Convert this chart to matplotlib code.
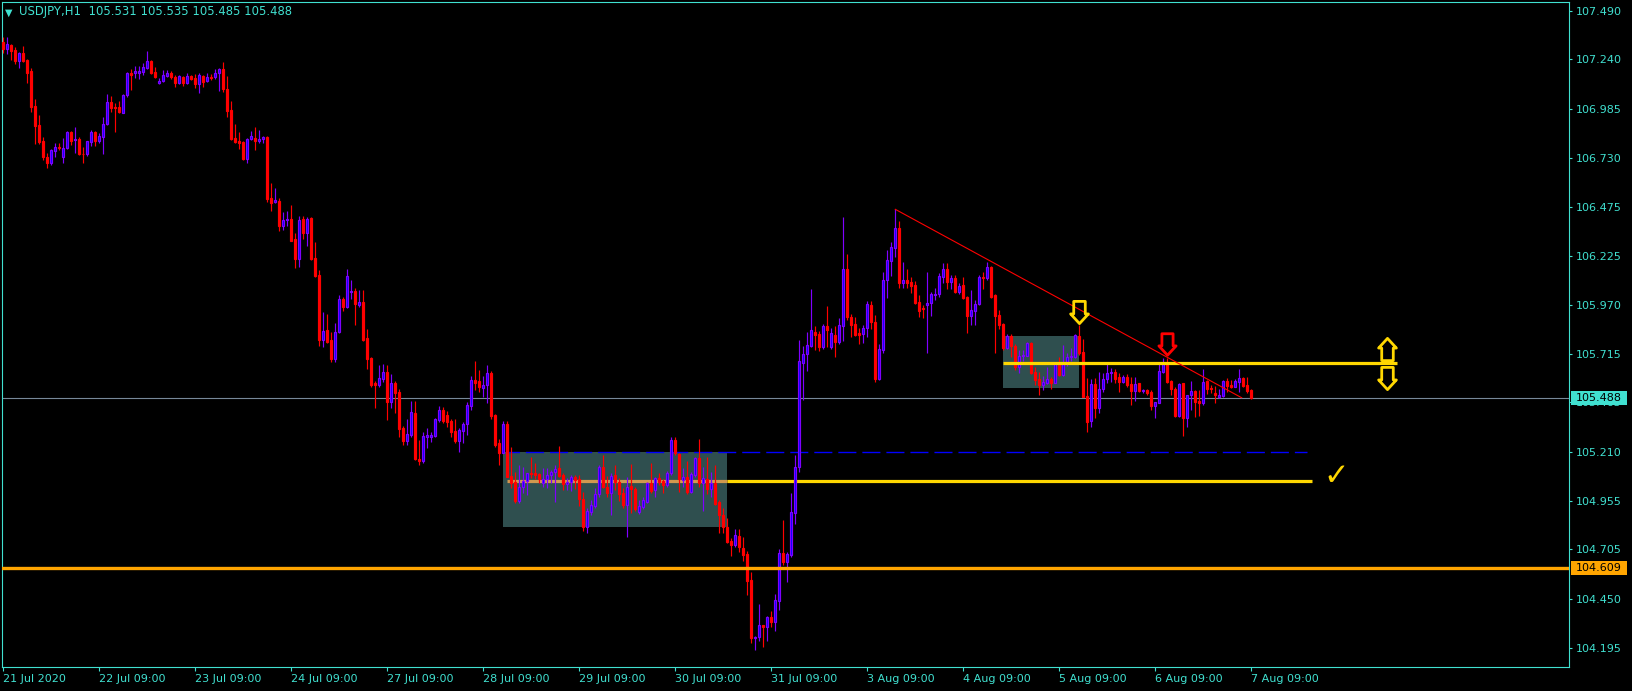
import numpy as np
import matplotlib
matplotlib.use("Agg")
import matplotlib.pyplot as plt
from matplotlib.path import Path
from matplotlib.patches import Rectangle
import matplotlib.transforms as mtransforms

plt.rcParams['lines.scale_dashes'] = False
plt.rcParams['font.family'] = ['DejaVu Sans']

# ---------------- data ----------------
title_text = "USDJPY,H1  105.531 105.535 105.485 105.488"

opens = [107.328,107.291,107.314,107.288,107.233,107.274,107.236,107.181,106.998,106.900,
106.817,106.736,106.705,106.765,106.788,106.733,106.779,106.864,106.821,106.826,
106.752,106.748,106.814,106.864,106.819,106.839,106.905,107.019,106.993,106.993,
106.964,107.055,107.171,107.167,107.171,107.176,107.196,107.233,107.176,107.115,
107.129,107.153,107.167,107.146,107.119,107.146,107.119,107.153,107.141,107.110,
107.153,107.127,107.146,107.146,107.167,107.190,107.086,106.977,106.833,106.817,
106.814,106.724,106.826,106.834,106.819,106.826,106.840,106.522,106.503,106.507,
106.379,106.409,106.414,106.310,106.207,106.414,106.343,106.421,106.214,106.124,
105.788,105.840,105.788,105.688,105.829,106.000,105.957,106.038,106.041,105.969,
105.984,105.797,105.697,105.564,105.555,105.586,105.624,105.469,105.564,105.517,
105.331,105.267,105.296,105.409,105.171,105.164,105.288,105.288,105.291,105.374,
105.426,105.400,105.369,105.317,105.265,105.319,105.353,105.447,105.581,105.576,
105.541,105.555,105.615,105.400,105.253,105.205,105.353,105.084,105.055,104.957,
105.029,105.058,105.098,105.098,105.095,105.050,105.070,105.089,105.103,105.124,
105.089,105.041,105.053,105.077,105.067,104.963,104.819,104.900,104.929,104.991,
105.129,105.029,104.998,105.089,105.055,104.994,104.934,105.034,105.015,104.899,
104.925,104.951,105.046,105.012,105.072,105.058,105.038,105.098,105.270,105.198,
105.065,105.081,105.003,105.089,105.176,105.046,105.067,105.015,105.046,104.948,
104.882,104.819,104.750,104.727,104.774,104.710,104.681,104.546,104.244,104.250,
104.313,104.301,104.356,104.330,104.439,104.684,104.641,104.676,104.895,105.129,
105.670,105.713,105.758,105.831,105.819,105.750,105.860,105.750,105.814,105.779,
105.862,106.155,105.908,105.870,105.822,105.817,105.848,105.969,105.882,105.586,
105.736,106.098,106.198,106.262,106.365,106.084,106.098,106.086,106.072,105.982,
105.951,105.967,105.977,106.022,106.026,106.115,106.155,106.089,106.110,106.038,
106.072,106.008,105.914,105.940,105.972,106.115,106.110,106.164,106.020,105.917,
105.870,105.745,105.810,105.758,105.650,105.707,105.707,105.770,105.624,105.584,
105.555,105.567,105.584,105.567,105.670,105.607,105.676,105.698,105.698,105.808,
105.727,105.498,105.370,105.560,105.438,105.532,105.586,105.615,105.624,105.598,
105.572,105.594,105.560,105.524,105.563,105.524,105.529,105.520,105.446,105.463,
105.624,105.670,105.577,105.532,105.394,105.563,105.382,105.503,105.524,105.474,
105.463,105.577,105.538,105.515,105.494,105.498,105.576,105.555,105.546,105.572,
105.589,105.555,105.531]

highs = [107.357,107.353,107.318,107.305,107.279,107.310,107.240,107.193,107.034,106.952,
106.839,106.753,106.776,106.805,106.808,106.831,106.871,106.871,106.891,106.839,
106.788,106.819,106.874,106.871,106.857,106.943,107.060,107.050,107.012,107.026,
107.060,107.176,107.188,107.207,107.205,107.219,107.284,107.236,107.202,107.141,
107.184,107.184,107.181,107.159,107.159,107.153,107.171,107.159,107.164,107.171,
107.159,107.167,107.164,107.188,107.193,107.226,107.153,107.026,106.905,106.862,
106.819,106.831,106.869,106.888,106.874,106.845,106.843,106.602,106.572,106.521,
106.452,106.457,106.486,106.340,106.429,106.429,106.422,106.424,106.297,106.150,
105.934,105.922,105.828,105.874,106.021,106.012,106.155,106.098,106.055,106.047,
106.047,105.845,105.702,105.576,105.659,105.664,105.659,105.612,105.576,105.533,
105.343,105.379,105.472,105.472,105.271,105.314,105.331,105.314,105.386,105.446,
105.440,105.421,105.379,105.379,105.331,105.365,105.469,105.603,105.679,105.633,
105.601,105.658,105.627,105.405,105.276,105.369,105.369,105.236,105.107,105.141,
105.132,105.101,105.181,105.150,105.101,105.124,105.124,105.115,105.141,105.239,
105.101,105.072,105.089,105.089,105.089,105.003,104.917,104.960,105.020,105.141,
105.193,105.084,105.098,105.141,105.072,105.020,105.081,105.146,105.029,104.960,
104.977,105.055,105.150,105.081,105.098,105.067,105.112,105.288,105.288,105.205,
105.124,105.164,105.107,105.184,105.276,105.132,105.181,105.107,105.141,104.960,
104.917,104.865,104.762,104.808,104.808,104.767,104.698,104.586,104.256,104.422,
104.316,104.360,104.386,104.474,104.706,104.856,104.693,104.998,105.193,105.788,
105.757,105.831,106.052,105.860,105.836,105.870,105.963,105.848,105.860,105.900,
106.422,106.233,105.922,105.905,105.848,105.865,105.989,105.989,105.917,105.767,
106.138,106.253,106.293,106.465,106.405,106.193,106.155,106.112,106.095,106.020,
105.969,106.138,106.038,106.055,106.136,106.188,106.188,106.124,106.124,106.081,
106.112,106.015,106.046,105.995,106.124,106.141,106.193,106.170,106.024,105.943,
105.874,105.819,105.819,105.767,105.736,105.736,105.779,105.779,105.650,105.624,
105.601,105.650,105.594,105.676,105.700,105.760,105.720,105.745,105.819,105.865,
105.791,105.589,105.584,105.589,105.624,105.619,105.667,105.641,105.636,105.619,
105.607,105.612,105.598,105.598,105.567,105.532,105.532,105.529,105.469,105.676,
105.693,105.693,105.581,105.543,105.567,105.567,105.503,105.577,105.529,105.529,
105.636,105.581,105.555,105.550,105.532,105.581,105.589,105.581,105.584,105.636,
105.598,105.598,105.535]

lows = [107.271,107.265,107.236,107.215,107.196,107.227,107.115,106.969,106.800,106.802,
106.719,106.679,106.693,106.736,106.771,106.702,106.774,106.796,106.757,106.745,
106.702,106.741,106.793,106.793,106.805,106.748,106.900,106.969,106.865,106.960,
106.960,107.046,107.081,107.141,107.140,107.157,107.191,107.164,107.143,107.112,
107.124,107.150,107.136,107.098,107.112,107.102,107.112,107.133,107.090,107.064,
107.095,107.124,107.133,107.140,107.077,107.072,106.943,106.822,106.808,106.774,
106.719,106.705,106.822,106.771,106.808,106.808,106.503,106.457,106.495,106.353,
106.357,106.378,106.298,106.162,106.167,106.309,106.274,106.204,106.116,105.757,
105.753,105.774,105.676,105.676,105.826,105.940,105.952,106.000,105.866,105.957,
105.785,105.638,105.546,105.438,105.546,105.572,105.374,105.434,105.408,105.288,
105.245,105.245,105.288,105.167,105.141,105.150,105.227,105.262,105.288,105.365,
105.357,105.336,105.288,105.253,105.210,105.253,105.296,105.426,105.529,105.521,
105.494,105.463,105.379,105.236,105.141,105.201,105.077,105.020,104.946,104.943,
104.994,104.986,105.076,105.067,105.050,105.029,105.020,105.050,104.951,105.077,
105.012,105.012,105.008,105.017,104.929,104.801,104.788,104.882,104.917,104.977,
105.020,104.974,104.882,105.012,104.957,104.920,104.767,104.891,104.905,104.888,
104.912,104.943,104.998,104.977,105.038,104.998,105.029,105.089,105.193,105.003,
105.029,104.991,104.994,105.077,105.029,104.905,104.991,104.977,104.934,104.788,
104.791,104.739,104.670,104.715,104.693,104.646,104.469,104.218,104.184,104.232,
104.201,104.232,104.305,104.284,104.391,104.624,104.538,104.667,104.836,105.107,
105.477,105.629,105.753,105.736,105.732,105.739,105.753,105.741,105.701,105.767,
105.784,105.891,105.801,105.808,105.767,105.774,105.805,105.843,105.572,105.581,
105.722,106.003,106.119,106.219,106.055,106.055,106.055,106.032,105.972,105.908,
105.900,105.722,105.912,105.995,106.012,106.084,106.050,106.050,106.032,106.026,
105.998,105.826,105.865,105.865,105.969,106.050,106.098,106.003,105.719,105.843,
105.736,105.739,105.701,105.632,105.619,105.680,105.705,105.612,105.555,105.503,
105.529,105.560,105.532,105.563,105.600,105.600,105.655,105.680,105.693,105.710,
105.494,105.313,105.339,105.382,105.408,105.520,105.563,105.572,105.567,105.520,
105.563,105.543,105.451,105.474,105.520,105.512,105.503,105.425,105.382,105.460,
105.619,105.563,105.503,105.391,105.388,105.291,105.339,105.425,105.388,105.394,
105.451,105.508,105.515,105.460,105.489,105.494,105.520,105.538,105.543,105.520,
105.543,105.515,105.485]

closes = [107.291,107.317,107.284,107.233,107.274,107.233,107.171,106.995,106.896,106.814,
106.736,106.705,106.771,106.784,106.783,106.779,106.864,106.819,106.826,106.748,
106.748,106.815,106.864,106.819,106.843,106.905,107.019,106.990,106.990,106.969,
107.055,107.171,107.159,107.178,107.181,107.198,107.229,107.171,107.150,107.127,
107.159,107.167,107.146,107.119,107.153,107.119,107.153,107.140,107.110,107.159,
107.124,107.146,107.143,107.167,107.188,107.084,106.974,106.827,106.814,106.805,
106.724,106.826,106.843,106.819,106.827,106.839,106.517,106.498,106.512,106.379,
106.409,106.414,106.302,106.207,106.409,106.340,106.414,106.207,106.119,105.788,
105.836,105.779,105.688,105.829,106.000,105.957,106.119,106.043,105.974,105.984,
105.788,105.690,105.555,105.555,105.593,105.624,105.469,105.564,105.515,105.327,
105.267,105.302,105.414,105.171,105.164,105.291,105.296,105.298,105.379,105.426,
105.369,105.365,105.314,105.265,105.322,105.353,105.452,105.581,105.564,105.546,
105.555,105.615,105.396,105.244,105.205,105.353,105.081,105.050,104.955,105.029,
105.058,105.098,105.093,105.089,105.067,105.070,105.089,105.103,105.119,105.084,
105.043,105.055,105.077,105.063,104.963,104.819,104.905,104.932,104.991,105.129,
105.025,104.998,105.084,105.051,104.991,104.934,105.029,105.015,104.913,104.930,
104.960,105.046,105.008,105.072,105.055,105.038,105.098,105.270,105.201,105.067,
105.081,105.003,105.095,105.176,105.046,105.072,105.015,105.046,104.939,104.882,
104.819,104.744,104.727,104.779,104.715,104.675,104.543,104.244,104.253,104.312,
104.305,104.353,104.330,104.443,104.684,104.641,104.681,104.900,105.132,105.679,
105.715,105.762,105.839,105.814,105.753,105.860,105.839,105.822,105.779,105.865,
106.155,105.905,105.865,105.814,105.815,105.848,105.972,105.882,105.586,105.739,
106.098,106.202,106.267,106.365,106.084,106.098,106.084,106.069,105.981,105.939,
105.946,105.977,106.024,106.026,106.119,106.155,106.089,106.110,106.038,106.067,
106.007,105.914,105.943,105.974,106.112,106.110,106.164,106.012,105.914,105.865,
105.745,105.810,105.758,105.650,105.707,105.710,105.770,105.619,105.581,105.555,
105.572,105.584,105.563,105.667,105.607,105.676,105.698,105.705,105.814,105.722,
105.494,105.365,105.560,105.438,105.532,105.584,105.615,105.624,105.586,105.572,
105.594,105.555,105.524,105.560,105.524,105.529,105.515,105.446,105.469,105.629,
105.670,105.569,105.532,105.394,105.560,105.382,105.503,105.524,105.469,105.463,
105.572,105.532,105.532,105.503,105.503,105.576,105.550,105.546,105.576,105.589,
105.550,105.525,105.488]

xtick_bars = [0, 24, 48, 72, 96, 120, 144, 168, 192, 216, 240, 264, 288, 312]
xtick_labels = ["21 Jul 2020", "22 Jul 09:00", "23 Jul 09:00", "24 Jul 09:00",
                "27 Jul 09:00", "28 Jul 09:00", "29 Jul 09:00", "30 Jul 09:00",
                "31 Jul 09:00", "3 Aug 09:00", "4 Aug 09:00", "5 Aug 09:00",
                "6 Aug 09:00", "7 Aug 09:00"]
ytick_values = [107.490, 107.240, 106.985, 106.730, 106.475, 106.225, 105.970,
                105.715, 105.465, 105.210, 104.955, 104.705, 104.450, 104.195]

bid_price = 105.488
support_price = 104.609

zone1_bars = [125, 181]
zone1_prices = [104.822, 105.207]
zone2_bars = [250, 269]
zone2_prices = [105.540, 105.809]

level1_price = 105.058
level1_bars = [126, 181, 327.2]
dash_price = 105.207
dash_bars = [126, 326]
level2_price = 105.669
level2_bars = [250, 348.4]

trend_bars = [223, 309.6]
trend_prices = [106.464, 105.489]

arrow_down_yellow = [(268.9, 105.935), (345.9, 105.591)]
arrow_down_red = [(291.05, 105.767)]
arrow_up_yellow = [(345.9, 105.739)]
check_pos = (333.2, 105.084)

# ---------------- style ----------------
BG = "#000000"
FG = "#40E0D0"
BULL_EDGE = "#8000FF"
BULL_FILL = "#0000FF"
BEAR = "#FF0000"
ZONE = "#2F4F4F"
YELLOW = "#FFD700"
TAN = "#D0984F"
ORANGE = "#FFA500"
BIDLINE = "#778899"
DASHBLUE = "#0000FF"

W, H = 1633, 691
fig = plt.figure(figsize=(W / 100, H / 100), dpi=100, facecolor=BG)
x0, x1, ytop, ybot = 2.3, 1569.3, 2.0, 667.3
ax = fig.add_axes([x0 / W, (H - ybot) / H, (x1 - x0) / W, (ybot - ytop) / H])
ax.set_facecolor(BG)
ax.set_xlim(-0.25, 391.5)
ax.set_ylim(104.0946, 107.5366)

for s in ax.spines.values():
    s.set_color(FG)
    s.set_linewidth(0.8)

ax.yaxis.tick_right()
ax.set_yticks(ytick_values)
ax.set_yticklabels([f"{v:.3f}" for v in ytick_values])
ax.set_xticks(xtick_bars)
ax.set_xticklabels(xtick_labels, ha="left")
ax.tick_params(axis="both", colors=FG, labelsize=8, width=0.8)
ax.tick_params(axis="y", length=2.5, pad=2.5)
ax.tick_params(axis="x", length=3, pad=1.5)

O = np.array(opens); Hh = np.array(highs); L = np.array(lows); C = np.array(closes)
x = np.arange(len(O))
up = C > O
dn = ~up

# zones
ax.add_patch(Rectangle((zone1_bars[0], zone1_prices[0]), zone1_bars[1] - zone1_bars[0],
                       zone1_prices[1] - zone1_prices[0], fc=ZONE, ec="none", zorder=1))
ax.add_patch(Rectangle((zone2_bars[0], zone2_prices[0]), zone2_bars[1] - zone2_bars[0],
                       zone2_prices[1] - zone2_prices[0], fc=ZONE, ec="none", zorder=1))

# bid line
ax.axhline(bid_price, color=BIDLINE, lw=0.8, zorder=1.5)

# levels
ax.hlines(level1_price, level1_bars[0], level1_bars[1], color=TAN, lw=2.3, zorder=2)
ax.hlines(level1_price, level1_bars[1], level1_bars[2], color=YELLOW, lw=2.3, zorder=2)
ax.hlines(dash_price, dash_bars[0], dash_bars[1], color=DASHBLUE, lw=1.0,
          linestyles=[(4, (13.0, 4.3))], zorder=2)

# candles
ax.vlines(x[up], L[up], Hh[up], color=BULL_EDGE, lw=0.85, zorder=3)
ax.vlines(x[dn], L[dn], Hh[dn], color=BEAR, lw=0.85, zorder=3)
ax.bar(x[up], C[up] - O[up], bottom=O[up], width=0.55, color=BULL_FILL,
       edgecolor=BULL_EDGE, linewidth=0.85, zorder=4)
ax.bar(x[dn], O[dn] - C[dn], bottom=C[dn], width=0.55, color=BEAR,
       edgecolor=BEAR, linewidth=0.85, zorder=4)

# lines on top
ax.hlines(level2_price, level2_bars[0], level2_bars[1], color=YELLOW, lw=2.3, zorder=5)
ax.axhline(support_price, color=ORANGE, lw=2.4, zorder=5)
ax.plot(trend_bars, trend_prices, color=BEAR, lw=0.8, zorder=5)

# hollow arrows (wingdings-like)
sw, hw, sb = 0.52, 0.80, -0.13
down_path = Path([(-sw, 1), (sw, 1), (sw, sb), (hw, sb), (0, -1), (-hw, sb), (-sw, sb), (-sw, 1)],
                 [Path.MOVETO] + [Path.LINETO] * 6 + [Path.CLOSEPOLY])
up_path = Path([(-sw, -1), (sw, -1), (sw, -sb), (hw, -sb), (0, 1), (-hw, -sb), (-sw, -sb), (-sw, -1)],
               [Path.MOVETO] + [Path.LINETO] * 6 + [Path.CLOSEPOLY])
for (bx, py) in arrow_down_yellow:
    ax.plot([bx], [py], marker=down_path, ms=16, mfc="none", mec=YELLOW, mew=2.0, zorder=6)
for (bx, py) in arrow_down_red:
    ax.plot([bx], [py], marker=down_path, ms=15.5, mfc="none", mec=BEAR, mew=2.0, zorder=6)
for (bx, py) in arrow_up_yellow:
    ax.plot([bx], [py], marker=up_path, ms=16, mfc="none", mec=YELLOW, mew=2.0, zorder=6)

ax.text(check_pos[0], check_pos[1], "\u2713", color=YELLOW, fontsize=22,
        ha="center", va="center", zorder=6)

# right-side price boxes
blend = mtransforms.blended_transform_factory(ax.transAxes, ax.transData)
half = 6.8 / 193.29
for price, col in [(bid_price, FG), (support_price, ORANGE)]:
    ax.add_patch(Rectangle((1.0011, price - half), 0.0357, 2 * half, transform=blend,
                           fc=col, ec="none", clip_on=False, zorder=10))
    ax.text(1.0042, price, f"{price:.3f}", transform=blend, color="black", fontsize=8,
            ha="left", va="center", clip_on=False, zorder=11)

# title
fig.text(5 / W, 1 - 12.5 / H, "\u25BC", color=FG, fontsize=7, ha="left", va="center")
fig.text(19 / W, 1 - 12 / H, title_text, color=FG, fontsize=8.4, ha="left", va="center")

fig.savefig("out.png", dpi=100, facecolor=BG)
